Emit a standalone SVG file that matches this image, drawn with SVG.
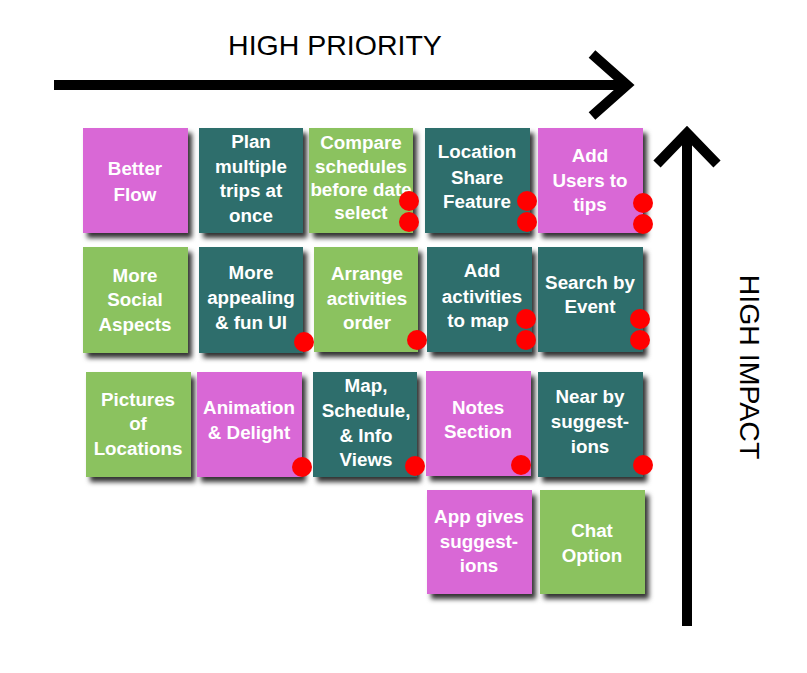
<svg xmlns="http://www.w3.org/2000/svg" width="807" height="673" viewBox="0 0 807 673">
<defs>
<filter id="sh" x="-10%" y="-10%" width="130%" height="130%">
<feDropShadow dx="4" dy="5" stdDeviation="2.5" flood-color="#000" flood-opacity="0.8"/>
</filter>
</defs>
<style>
.pink{fill:#D967D6}
.teal{fill:#2F6E6C}
.green{fill:#8BC25F}
.card{filter:url(#sh)}
.t{font-family:"Liberation Sans",Arial,Helvetica,sans-serif;font-weight:bold;font-size:18.8px;fill:#fff;text-anchor:middle}
.dot{fill:#FF0000}
.ax{fill:none;stroke:#000;stroke-width:10}
.lbl{font-family:"Liberation Sans",Arial,Helvetica,sans-serif;font-size:28.5px;fill:#000;text-anchor:middle}
</style>
<rect width="807" height="673" fill="#fff"/>

<g id="connectors">
<path class="ax" d="M54 85 H626"/>
<path class="ax" d="M592 54 L627 85 L592 116"/>
<path class="ax" d="M687 626 V134"/>
<path class="ax" d="M657 164 L687 133 L717 164"/>
</g>
<text class="lbl" x="335" y="55">HIGH PRIORITY</text>
<text class="lbl" transform="translate(740 367) rotate(90)">HIGH IMPACT</text>

<g id="better-flow">
<rect class="card pink" x="83" y="128" width="105" height="105"/>
<text class="t" x="135" y="175">Better</text>
<text class="t" x="135" y="201">Flow</text>
</g>
<g id="plan-multiple">
<rect class="card teal" x="199" y="128" width="104" height="105"/>
<text class="t" x="251" y="148">Plan</text>
<text class="t" x="251" y="173">multiple</text>
<text class="t" x="251" y="197">trips at</text>
<text class="t" x="251" y="222">once</text>
</g>
<g id="compare-schedules">
<rect class="card green" x="309" y="128" width="104" height="105"/>
<text class="t" x="361" y="149">Compare</text>
<text class="t" x="361" y="173">schedules</text>
<text class="t" x="361" y="196">before date</text>
<text class="t" x="361" y="219">select</text>
<circle class="dot" cx="409" cy="201" r="10"/>
<circle class="dot" cx="409" cy="222" r="10"/>
</g>
<g id="location-share">
<rect class="card teal" x="425" y="128" width="105" height="105"/>
<text class="t" x="477" y="158">Location</text>
<text class="t" x="477" y="184">Share</text>
<text class="t" x="477" y="208">Feature</text>
<circle class="dot" cx="527" cy="201" r="10"/>
<circle class="dot" cx="527" cy="222" r="10"/>
</g>
<g id="add-users">
<rect class="card pink" x="538" y="128" width="105" height="105"/>
<text class="t" x="590" y="162">Add</text>
<text class="t" x="590" y="187">Users to</text>
<text class="t" x="590" y="211">tips</text>
<circle class="dot" cx="643" cy="203" r="10"/>
<circle class="dot" cx="643" cy="224" r="10"/>
</g>

<g id="more-social">
<rect class="card green" x="83" y="247" width="105" height="106"/>
<text class="t" x="135" y="282">More</text>
<text class="t" x="135" y="306">Social</text>
<text class="t" x="135" y="331">Aspects</text>
</g>
<g id="more-appealing">
<rect class="card teal" x="199" y="247" width="104" height="106"/>
<text class="t" x="251" y="279">More</text>
<text class="t" x="251" y="304">appealing</text>
<text class="t" x="251" y="329">&amp; fun UI</text>
<circle class="dot" cx="304" cy="342" r="10"/>
</g>
<g id="arrange-activities">
<rect class="card green" x="314" y="247" width="104" height="105"/>
<text class="t" x="367" y="280">Arrange</text>
<text class="t" x="367" y="305">activities</text>
<text class="t" x="367" y="329">order</text>
<circle class="dot" cx="417" cy="340" r="10"/>
</g>
<g id="add-activities">
<rect class="card teal" x="427" y="247" width="105" height="105"/>
<text class="t" x="482" y="277">Add</text>
<text class="t" x="482" y="303">activities</text>
<text class="t" x="478" y="327">to map</text>
<circle class="dot" cx="526" cy="319" r="10"/>
<circle class="dot" cx="526" cy="340" r="10"/>
</g>
<g id="search-event">
<rect class="card teal" x="538" y="247" width="105" height="105"/>
<text class="t" x="590" y="289">Search by</text>
<text class="t" x="590" y="313">Event</text>
<circle class="dot" cx="640" cy="319" r="10"/>
<circle class="dot" cx="640" cy="340" r="10"/>
</g>

<g id="pictures-locations">
<rect class="card green" x="86" y="372" width="105" height="105"/>
<text class="t" x="138" y="406">Pictures</text>
<text class="t" x="138" y="430">of</text>
<text class="t" x="138" y="455">Locations</text>
</g>
<g id="animation-delight">
<rect class="card pink" x="197" y="372" width="105" height="105"/>
<text class="t" x="249" y="414">Animation</text>
<text class="t" x="249" y="439">&amp; Delight</text>
<circle class="dot" cx="302" cy="467" r="10"/>
</g>
<g id="map-schedule">
<rect class="card teal" x="313" y="372" width="104" height="105"/>
<text class="t" x="366" y="392">Map,</text>
<text class="t" x="366" y="417">Schedule,</text>
<text class="t" x="366" y="442">&amp; Info</text>
<text class="t" x="366" y="466">Views</text>
<circle class="dot" cx="415" cy="466" r="10"/>
</g>
<g id="notes-section">
<rect class="card pink" x="426" y="371" width="105" height="105"/>
<text class="t" x="478" y="414">Notes</text>
<text class="t" x="478" y="438">Section</text>
<circle class="dot" cx="521" cy="465" r="10"/>
</g>
<g id="near-by">
<rect class="card teal" x="538" y="372" width="105" height="105"/>
<text class="t" x="590" y="403">Near by</text>
<text class="t" x="590" y="428">suggest-</text>
<text class="t" x="590" y="453">ions</text>
<circle class="dot" cx="643" cy="465" r="10"/>
</g>

<g id="app-gives">
<rect class="card pink" x="427" y="490" width="105" height="104"/>
<text class="t" x="479" y="523">App gives</text>
<text class="t" x="479" y="548">suggest-</text>
<text class="t" x="479" y="572">ions</text>
</g>
<g id="chat-option">
<rect class="card green" x="540" y="490" width="105" height="104"/>
<text class="t" x="592" y="537">Chat</text>
<text class="t" x="592" y="562">Option</text>
</g>
</svg>
